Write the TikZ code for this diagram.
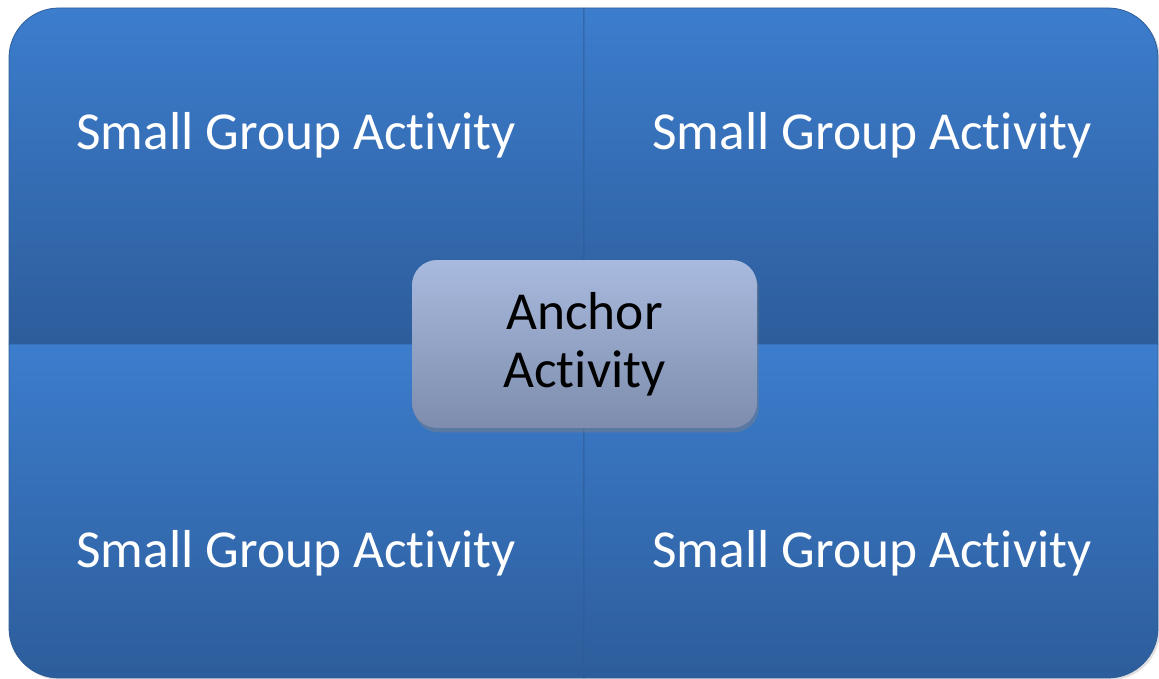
\documentclass[tikz,border=0pt]{standalone}
\usepackage{fontspec}
\setmainfont[Ligatures=CommonOff]{Carlito}
\usetikzlibrary{shadows}

\definecolor{quadtop}{RGB}{60,125,205}
\definecolor{quadbot}{RGB}{45,93,155}
\definecolor{quadline}{RGB}{46,92,152}
\definecolor{anchtop}{RGB}{168,186,222}
\definecolor{anchbot}{RGB}{126,141,173}

\tikzset{
  quad/.style={top color=quadtop,bottom color=quadbot,draw=quadline,line width=.45pt,
    drop shadow={opacity=.25,shadow xshift=1.2pt,shadow yshift=-1.2pt}},
  grouplabel/.style={text=white,font=\fontsize{30.4}{33}\selectfont},
  anchorbox/.style={rounded corners=.5cm,top color=anchtop,bottom color=anchbot,
    minimum width=6.9cm,minimum height=3.36cm,align=center,
    font=\fontsize{30.4}{33}\selectfont,
    drop shadow={opacity=.45,shadow xshift=1pt,shadow yshift=-2.5pt}}
}

\begin{document}
\begin{tikzpicture}[x=.02cm,y=.02cm]
      \useasboundingbox (0,0) rectangle (1159,679) ;
      % four quadrants, each rounded at its outer corner
      \shade[quad] (584,335) -- (584,671) [rounded corners=1cm] -- (9,671) [sharp corners] -- (9,335) -- cycle ;
      \shade[quad] (584,335) -- (584,671) [rounded corners=1cm] -- (1158,671) [sharp corners] -- (1158,335) -- cycle ;
      \shade[quad] (584,335) -- (9,335) [rounded corners=1cm] -- (9,1) [sharp corners] -- (584,1) -- cycle ;
      \shade[quad] (584,335) -- (1158,335) [rounded corners=1cm] -- (1158,1) [sharp corners] -- (584,1) -- cycle ;
      \foreach \name/\x/\y in {tl/296/544,tr/872/544,bl/296/126,br/872/126}
        \node[grouplabel] (sga\name) at (\x,\y) {Small Group Activity} ;
      \node[anchorbox] (anchor) at (584.5,335) {Anchor\\Activity} ;
    \end{tikzpicture}
\end{document}
